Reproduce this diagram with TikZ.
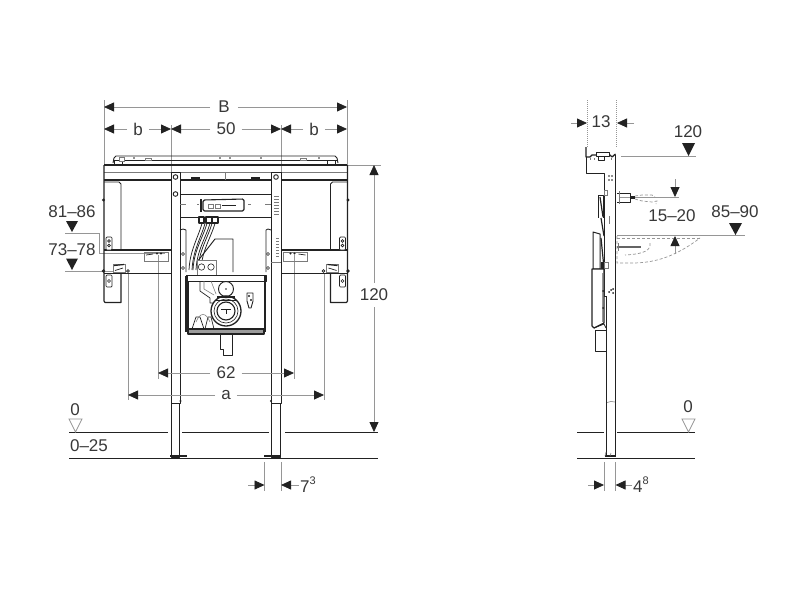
\documentclass[tikz,border=0pt]{standalone}
\usepackage{fontspec}
\setmainfont{Liberation Sans}
\usetikzlibrary{arrows.meta}
\definecolor{ink}{HTML}{222222}
\definecolor{dimgray}{HTML}{969696}
\tikzset{
  part/.style={draw=ink,line width=.95pt,line join=round},
  thin part/.style={draw=ink!60,line width=.55pt},
  heavy/.style={draw=ink,line width=2.2pt},
  ext/.style={draw=dimgray,line width=.8pt},
  dash ext/.style={draw=dimgray,line width=1pt,densely dotted},
  ghost/.style={draw=dimgray,line width=.7pt,densely dashed},
  dim/.style={draw=dimgray,line width=.8pt,-{Triangle[length=10pt,width=9pt,ink]}},
  lab/.style={inner sep=2.5pt,font=\fontsize{17}{19}\selectfont,text=ink!90},
  lvl/.style={fill=ink,draw=none},
  lvlo/.style={draw=dimgray,line width=.7pt,fill=white},
  hole/.style={draw=ink,line width=.6pt,fill=white}
}
\newcommand{\supfig}[1]{\raisebox{.48em}{\fontsize{11}{12}\selectfont #1}}
\begin{document}
\begin{tikzpicture}[x=1pt,y=-1pt]
\useasboundingbox (0,0) rectangle (800,600);
\fill[white] (0,0) rectangle (800,600);

% ---------- extension lines front view ----------
\foreach \x/\a/\b in {104/100/165, 171/125/172, 281/125/172, 347/100/165}
  \draw[ext] (\x,\a) -- (\x,\b);
\foreach \x/\a/\b in {128/273/400, 158/255/379, 294/255/379, 324/273/400}
  \draw[ext] (\x,\a) -- (\x,\b);
\draw[ext] (347,165) -- (381,165);
\draw[ext] (65,233) -- (99,233) -- (99,253) -- (165,253);
\draw[ext] (65,271) -- (128,271);
\draw[ext] (264.5,462) -- (264.5,491);
\draw[ext] (281,462) -- (281,491);

% ---------- top plate ----------
\draw[part] (113,163) -- (114,158) -- (116,156) -- (335,156) -- (337,158) -- (338,163);
\draw[part] (113,160) -- (338,160);
\draw[part,line width=1.2pt] (104,165) -- (347,165);
\draw[thin part] (104,172) -- (347,172);
\draw[part,line width=1.2pt] (104,180) -- (347,180);
\draw[part,fill=white] (114,160) rectangle (122,164);
\draw[thin part,fill=white] (119,157) rectangle (124,161);
\draw[thin part,fill=white] (145,158) rectangle (151,160);
\draw[thin part,fill=white] (300,158) rectangle (306,160);
\draw[part,fill=white] (327,160) rectangle (335,164);
\foreach \x in {134,220,230,261,319}\fill[ink] (\x,158) circle (.9pt);

% ---------- wings (left, then mirrored) ----------
\foreach \s/\o in {1/0,-1/451.5}{
\begin{scope}[shift={(\o,0)},xscale=\s]
  \draw[part,line width=1.2pt] (104,165) -- (104,301) -- (105,302.5) -- (121,302.5) -- (121,273);
  \draw[part] (121,250) -- (121,184) -- (119,182) -- (104,182);
  \draw[part,line width=1.2pt] (104,250) -- (171,250);
  \draw[part] (104,273) -- (171,273);
  \draw[thin part] (144,252) rectangle (168,261);
  \draw[part,line width=.7pt] (146,255) -- (153,254);
  \fill[ink] (157,253.5) circle (1.1pt) (161,253.5) circle (1.1pt);
  \draw[part,line width=.7pt,rounded corners=1pt,fill=white] (106,237) rectangle (112,250);
  \draw[hole] (109,241) circle (1.4pt) (109,245.5) circle (1.4pt);
  \draw[part,line width=.7pt,rounded corners=1pt,fill=white] (106,275) rectangle (112,287);
  \draw[hole] (109,281) circle (1.5pt);
  \draw[thin part,fill=white] (113,264) rectangle (125,272);
  \draw[part,line width=1.2pt] (114,265.5) -- (124,264.5);
  \draw[part,line width=.7pt] (115,270.5) -- (123,268);
  \draw[hole] (128,271) circle (1.4pt);
  \fill[ink] (103.5,200) circle (1.6pt);
  \fill[ink] (103.5,271) circle (1.8pt);
\end{scope}}

% ---------- columns ----------
\foreach \xa/\xb in {171/180,271/281}{
  \draw[part,fill=white] (\xa,172) rectangle (\xb,403);
  \draw[part,fill=white] (\xa+.5,403) rectangle (\xb-1,457);
}
\draw[hole,line width=.9pt] (175.5,177) circle (2.3pt);
\draw[hole,line width=.9pt] (175.5,194) circle (2.3pt);
\draw[hole,line width=.9pt] (276,177) circle (2.3pt);
\fill[ink] (180.5,401) circle (1.2pt) (271,401) circle (1.2pt);
\draw[part,line width=1.5pt] (170,456) -- (187,456);
\draw[part,line width=1.5pt] (264,456) -- (281,456);
% scale marks on right column
\foreach \y in {196,199,...,214}\draw[thin part] (274,\y) -- (279,\y);
\foreach \y in {238,241,...,256}\draw[thin part] (276,\y) -- (279,\y);
\draw[thin part] (271,262) -- (281,262);

% ---------- upper frame ----------
\draw[part] (180,194) -- (271,194);
\draw[part] (180,217) -- (271,217);
\draw[thin part] (225,173) -- (225,180);
\draw[part,line width=1.4pt] (191,178) -- (200,178);
\draw[part,line width=1.4pt] (251,178) -- (260,178);
\draw[thin part] (180,204) -- (186,204);
\draw[thin part] (265,204) -- (271,204);
% flush mechanism
\draw[part,line width=1.1pt,fill=white,rounded corners=1.5pt] (203,200) -- (244,199) -- (244,211) -- (203,211) -- cycle;
\draw[part,line width=1.5pt] (201,199) -- (201,212);
\draw[thin part] (208,204) rectangle (213,208);
\draw[thin part] (215,204) rectangle (220,208);
\draw[part,line width=1pt] (222,205) -- (236,205);
\draw[thin part] (197,204) -- (199,204) (248,204) -- (251,204);
% cables
\foreach \xa/\xb in {203/190,208/194,213/199}{
  \draw[part,line width=.75pt] (\xa,219) .. controls (\xa-3,235) and (\xb,248) .. (\xb-1,270);
  \draw[part,line width=.75pt] (\xa+3,219) .. controls (\xa,235) and (\xb+3,248) .. (\xb+2,270);
}
\draw[part,line width=1.1pt,fill=white] (199,217) rectangle (204,223);
\draw[part,line width=1.1pt,fill=white] (206,217) rectangle (212,223);
\draw[part,line width=1.1pt,fill=white] (212,217) rectangle (218,223);
% inner control box
\draw[part] (197,262) -- (215,239) -- (233,239) -- (233,272);
\draw[thin part,fill=white] (197,260) rectangle (216,275);
\draw[hole] (201.5,267) circle (3.2pt) (211,267) circle (3.2pt);
% side rails
\draw[part,line width=.8pt] (180,230) -- (183,229) -- (186,230) -- (186,272);
\draw[part,line width=.8pt] (271,230) -- (268,229) -- (266,230) -- (266,272);
\draw[hole] (183,254) circle (1.5pt) (183,268) circle (1.5pt);
\draw[hole] (268,254) circle (1.5pt) (268,268) circle (1.5pt);

% ---------- cistern ----------
\draw[part,fill=white] (186,275) rectangle (266,281);
\draw[part,line width=.7pt] (188,281) rectangle (264,330);
\draw[heavy] (186.5,276) -- (186.5,332);
\draw[heavy] (265,276) -- (265,332);
\draw[part,line width=1.3pt,fill=ink!45] (188,329) rectangle (264,334);
\draw[part,line width=.7pt] (200,281) -- (200,291) -- (210,298) -- (210,303) -- (218,303);
\draw[thin part] (204,281) -- (204,289) -- (214,295);
\draw[thin part] (211,281) -- (216,294);
\draw[part,line width=.7pt] (192,329) -- (196,317) -- (200,317) -- (204,329);
\draw[part,line width=.7pt] (205,329) -- (208,317) -- (211,317) -- (214,329);
\draw[thin part] (196,322) .. controls (200,312) and (206,312) .. (210,322);
% tank valve circles
\draw[part,fill=white] (226,289) circle (7.5pt);
\fill[ink] (226,289) circle (.9pt);
\draw[part,fill=white,line width=1.3pt] (226,311) circle (15pt);
\draw[part,line width=.6pt] (226,311) circle (12pt);
\draw[part,line width=1.1pt] (226,311) circle (9pt);
\draw[part,line width=.9pt] (221,309) -- (231,309) (226,309) -- (226,314);
\draw[part,line width=1.1pt] (217,297) -- (235,297);
\draw[part,line width=.8pt] (216,300) -- (236,300);
\draw[part,line width=.9pt] (247,293) -- (253,293) -- (253,301) -- (251,308) -- (249,308) -- (247,301) -- cycle;
\fill[ink] (249,296) circle (1.2pt);
\fill[ink] (251,300) circle (1.2pt);
% outlet
\draw[part,line width=.8pt] (220,334) -- (220,349) -- (223,349) -- (223,355) -- (232,355) -- (232,334);

% ---------- floors ----------
\coordinate (flA) at (69,432); \coordinate (flB) at (168,432);
\coordinate (flC) at (182,432); \coordinate (flD) at (269,432);
\coordinate (flE) at (285,432); \coordinate (flF) at (378,432);
\coordinate (fmA) at (69,458.5); \coordinate (fmB) at (378,458.5);
\draw[part,line width=1pt] (flA) -- (flB) (flC) -- (flD) (flE) -- (flF);
\draw[part,line width=1.5pt] (fmA) -- (fmB);

% ---------- front dimensions ----------
\coordinate (Bl) at (104,107); \coordinate (Br) at (347,107);
\node[lab,inner sep=8pt] (B) at (224,107) {B};
\draw[dim] (B) -- (Bl); \draw[dim] (B) -- (Br);
\coordinate (b1l) at (104,129); \coordinate (b1r) at (171,129);
\node[lab,inner sep=6pt] (bL) at (138,129) {b};
\draw[dim] (bL) -- (b1l); \draw[dim] (bL) -- (b1r);
\coordinate (c1l) at (171,129); \coordinate (c1r) at (281,129);
\node[lab,inner sep=6pt] (fifty) at (226,129) {50};
\draw[dim] (fifty) -- (c1l); \draw[dim] (fifty) -- (c1r);
\coordinate (b2l) at (281,129); \coordinate (b2r) at (347,129);
\node[lab,inner sep=6pt] (bR) at (314,129) {b};
\draw[dim] (bR) -- (b2l); \draw[dim] (bR) -- (b2r);
\coordinate (s2l) at (158,373); \coordinate (s2r) at (294,373);
\node[lab,inner sep=6pt] (sixtytwo) at (226,373) {62};
\draw[dim] (sixtytwo) -- (s2l); \draw[dim] (sixtytwo) -- (s2r);
\coordinate (al) at (128,395); \coordinate (ar) at (324,395);
\node[lab,inner sep=6pt] (a) at (226,395) {a};
\draw[dim] (a) -- (al); \draw[dim] (a) -- (ar);
\coordinate (ht) at (374,165); \coordinate (hb) at (374,432);
\node[lab,inner sep=6pt] (hh) at (374,295) {120};
\draw[dim] (hh) -- (ht); \draw[dim] (hh) -- (hb);
\coordinate (s7a) at (248,485); \coordinate (s7b) at (264.5,485);
\draw[dim] (s7a) -- (s7b);
\node[lab,anchor=west,inner sep=1pt] (seven) at (299,485) {7\supfig{3}};
\coordinate (s7c) at (281,485);
\draw[dim] (seven) -- (s7c);

% levels left
\node[lab] (lv1) at (72,212) {81–86};
\node[lab] (lv2) at (72,250) {73–78};
\node[lab] (lv0) at (75,410) {0};
\node[lab] (lv025) at (89,446) {0–25};
\fill[lvl] (66,221) -- (78,221) -- (72,232) -- cycle;
\fill[lvl] (66,258.5) -- (78,258.5) -- (72,270) -- cycle;
\draw[lvlo] (69,419) -- (82,419) -- (75.5,432) -- cycle;

% ---------- side view ----------
\foreach \x in {587,616}
  \draw[dash ext] (\x,100) -- (\x,147);
\draw[ext] (621,156) -- (696,156);
\draw[ext] (620,197) -- (679,197);
\draw[ext] (604,462) -- (604,491);
\draw[ext] (615.5,462) -- (615.5,491);
% wall frame
\draw[part,line width=1.3pt] (586,147) -- (586,157) -- (590,157) -- (592,155) -- (610,155) -- (612,157) -- (615.5,154);
\draw[part,fill=white,line width=.8pt] (596,152) rectangle (609,156);
\draw[part,line width=.7pt] (598,156) rectangle (604,160);
\draw[part,line width=1pt] (586,157) -- (586,173) -- (604,173) -- (604,296) -- (606,296);
\draw[thin part] (590,158) -- (590,160) (594,158) -- (594,160) (611,158) -- (611,160);
\draw[part,line width=1.4pt] (615.5,155) -- (615.5,457);
\draw[part,line width=1.2pt] (606.5,297) -- (606.5,457);
\draw[thin part] (607,402.5) .. controls (610,401) and (612,401.5) .. (615,402);
\draw[part,line width=1.3pt] (605,456) -- (616,456);
\draw[thin part] (605,456) -- (606,452) (610,456) -- (611,453);
\fill[ink] (609,176) circle (.9pt) (612,176) circle (.9pt) (612,180) circle (.9pt) (609,180) circle (.9pt);
% parts on frame
\draw[thin part] (604,190) rectangle (607,195);
\draw[part,line width=.8pt] (598,195) -- (603,195) -- (603,218);
\draw[part,line width=.8pt] (598,195) -- (598,218);
\draw[part,line width=1.2pt] (600,197) -- (603,217);
\draw[thin part] (609,216) -- (609,224);
\draw[part,line width=1pt,fill=white] (593,232) -- (600,234) -- (600,269) -- (593,269) -- cycle;
\draw[part,line width=1.2pt] (601,218) -- (604,236) (601,238) -- (604,268);
\draw[part,line width=1pt,fill=ink] (601,262) rectangle (604,268);
\draw[thin part,fill=white] (604,262) rectangle (608,268);
\draw[part,line width=1.2pt,fill=white] (592,269) -- (604,269) -- (604,323) -- (594,328) -- (592,326) -- cycle;
\draw[part,line width=.7pt] (604,296) -- (607,296);
\draw[dimgray,line width=.7pt] (602,273) -- (602,322);
\fill[ink] (603,291) circle (1pt) (603,308) circle (1pt) (611,290) circle (1pt) (613,289) circle (1pt) (613,293) circle (1pt) (609,292) circle (1pt);
\draw[part,line width=.8pt] (594,328) -- (604,324) -- (606,328);
\draw[part,line width=.8pt] (595,330) -- (595,351) -- (606.5,351);
\draw[part,line width=1pt] (595,330) -- (606,330);
% spout & bolt
\draw[part,line width=.8pt] (617,193) -- (630,193) -- (630,202) -- (617,202);
\draw[part,line width=2.2pt] (630,197.5) -- (635,197.5);
\draw[thin part] (619,191) -- (619,204);
\draw[ghost] (635,196) -- (642,195) -- (652,195) -- (655,197);
\draw[ghost] (635,199) -- (642,201) -- (652,202) -- (657,201) -- (656,204);
\draw[draw=ink!70,line width=1.8pt] (617,247) -- (641,247);
\draw[thin part] (618,243) -- (618,251);
\draw[ghost] (617,235) -- (700,235);
\draw[ghost] (617,238) -- (700,238);
\draw[ghost] (617,236) -- (617,263) -- (632,263) .. controls (660,263) and (680,253) .. (700,238);
\draw[ghost] (650,243) .. controls (651,250) and (645,254) .. (625,255);
\draw[ext] (618,235) -- (745,235);
% side floors
\coordinate (sfA) at (577,432); \coordinate (sfB) at (604,432);
\coordinate (sfC) at (617,432); \coordinate (sfD) at (695,432);
\coordinate (smA) at (577,458.5); \coordinate (smB) at (695,458.5);
\draw[part,line width=1pt] (sfA) -- (sfB) (sfC) -- (sfD);
\draw[part,line width=1.5pt] (smA) -- (smB);

% side dims
\node[lab,inner sep=1pt] (thirteen) at (601,122) {13};
\coordinate (t1) at (571,123); \coordinate (t2) at (587,123);
\coordinate (t3) at (634,123); \coordinate (t4) at (617,123);
\draw[dim] (t1) -- (t2); \draw[dim] (t3) -- (t4);
\node[lab] (s120) at (688,132) {120};
\fill[lvl] (682,143) -- (695,143) -- (688.5,156) -- cycle;
\coordinate (dnA) at (675,179); \coordinate (dnB) at (675,197);
\draw[dim] (dnA) -- (dnB);
\node[lab] (s1520) at (672,216) {15–20};
\node[lab] (s8590) at (735,212) {85–90};
\fill[lvl] (729,223) -- (742,223) -- (735.5,235) -- cycle;
\coordinate (upA) at (675,254); \coordinate (upB) at (675,236);
\draw[dim] (upA) -- (upB);
\coordinate (f1) at (588,485); \coordinate (f2) at (604,485);
\draw[dim] (f1) -- (f2);
\node[lab,anchor=west,inner sep=1pt] (foureight) at (632,485) {4\supfig{8}};
\coordinate (f3) at (615.5,485);
\draw[dim] (foureight) -- (f3);
\node[lab] (s0) at (688,407) {0};
\draw[lvlo] (682,419) -- (695,419) -- (688.5,432) -- cycle;
\end{tikzpicture}
\end{document}
